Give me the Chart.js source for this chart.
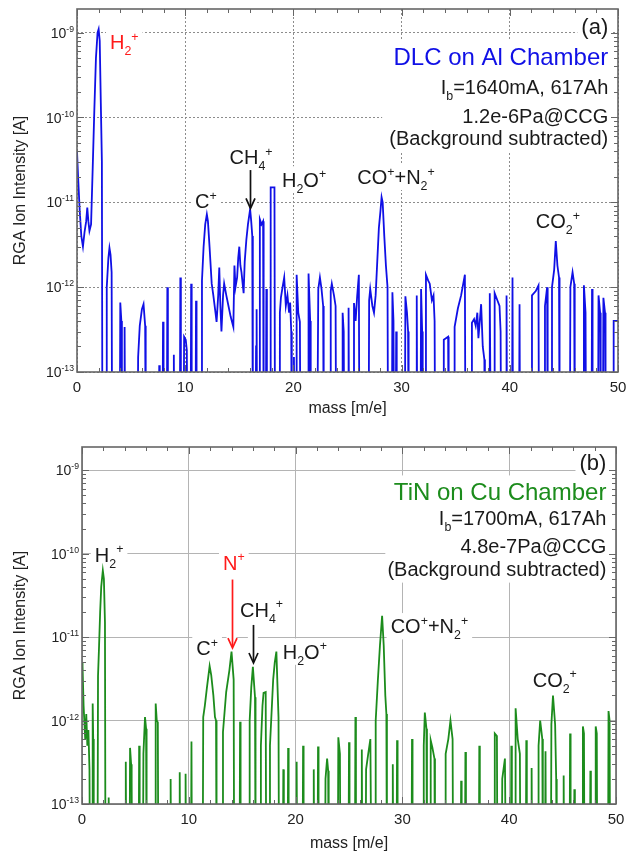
<!DOCTYPE html>
<html><head><meta charset="utf-8">
<script src="https://cdn.jsdelivr.net/npm/chart.js@4.4.1/dist/chart.umd.min.js"></script>
<style>
html,body{margin:0;padding:0;background:#fff;}
#ca{position:absolute;left:0;top:0;}
#cb{position:absolute;left:0;top:430px;}
</style></head><body>
<canvas id="ca"></canvas>
<canvas id="cb"></canvas>
<script>
const Z = 1e-14; // below the 1e-13 axis floor
const massTicks = [0, 10, 20, 30, 40, 50];
const decadeTicks = [1e-13, 1e-12, 1e-11, 1e-10, 1e-9];

// ---- (a) DLC on Al chamber ----
const massA = [
0,0.1,0.25,0.4,0.55,0.7,0.85,0.95,1.05,1.15,1.3,1.45,1.6,1.75,1.9,2.0,2.1,2.2,2.3,2.35,
2.7,2.75,2.9,3.0,3.1,3.2,3.25,
3.95,4.0,4.1,4.15,
4.35,4.4,4.45,
5.6,5.65,5.8,6.0,6.15,6.3,6.35,
7.55,7.6,7.65,
7.9,7.95,8.0,
8.3,8.35,8.4,
8.9,8.95,9.0,
9.5,9.55,9.6,
9.85,9.9,10.05,10.15,10.2,
10.5,10.55,10.6,
10.95,11.0,11.05,
11.5,11.55,11.7,11.85,12.0,12.1,12.25,12.45,12.6,12.8,12.9,13.05,13.15,13.25,13.35,13.5,13.6,13.8,14.0,14.2,14.45,14.55,14.65,14.8,14.9,15.0,15.1,15.2,15.4,15.5,15.65,15.8,16.0,16.1,16.2,16.25,
16.5,16.55,16.6,16.65,
16.85,16.9,17.05,17.2,17.25,
17.45,17.5,17.55,
17.85,17.9,18.25,18.3,
18.7,18.75,18.85,19.0,19.15,19.3,19.45,19.6,19.7,19.8,19.85,
20.0,20.05,20.1,
20.25,20.3,20.45,20.6,20.65,
21.35,21.4,21.55,21.6,
22.2,22.3,22.45,22.6,22.75,22.8,
23.4,23.45,23.55,23.75,23.9,23.95,
24.5,24.55,24.65,24.7,
25.05,25.1,25.15,
25.55,25.6,25.75,25.9,26.05,26.1,
26.95,27.0,27.1,27.3,27.45,27.6,27.75,27.9,28.05,28.15,28.25,28.4,28.55,28.7,28.75,
29.1,29.15,29.25,29.3,
29.45,29.5,29.55,
30.3,30.35,30.5,30.6,30.65,
31.35,31.4,31.45,
31.75,31.8,31.9,31.95,
32.2,32.25,32.45,32.6,32.8,32.95,33.05,33.1,
33.85,33.9,34.3,34.35,
34.85,34.9,35.2,35.5,35.85,35.9,
36.45,36.5,36.7,36.85,37.0,37.1,37.35,37.5,37.65,37.7,
38.1,38.15,38.25,
38.55,38.6,38.85,39.05,39.15,39.2,
39.65,39.7,39.75,
40.2,40.25,40.3,
40.85,40.9,40.95,
42.0,42.05,42.4,42.65,42.7,
43.2,43.25,43.45,43.5,
43.85,43.9,44.1,44.25,44.4,44.55,44.6,
45.55,45.6,45.8,45.95,46.0,
46.8,46.85,47.0,47.05,
47.55,47.6,47.65,
48.15,48.2,48.35,48.4,
48.6,48.65,48.8,48.85,
49.55,49.6,50
];
const ionA = [
4e-11,2e-11,8e-12,4e-12,3e-12,4.5e-12,6e-12,8.7e-12,6e-12,4.6e-12,5.5e-12,2.5e-11,1.2e-10,5e-10,1e-9,1.1e-9,8e-10,1.5e-10,3e-11,Z,
Z,1e-12,2.2e-12,2.9e-12,2.4e-12,1.5e-12,Z,
Z,6.6e-13,4e-13,Z,
Z,3.4e-13,Z,
Z,1.5e-13,3.5e-13,5.5e-13,6.3e-13,3.5e-13,Z,
Z,1.2e-13,Z,
Z,3.9e-13,Z,
Z,1e-12,Z,
Z,1.6e-13,Z,
Z,1.3e-12,Z,
Z,2.6e-13,2.4e-13,1.8e-13,Z,
Z,1.1e-12,Z,
Z,6.9e-13,Z,
Z,1.2e-12,3e-12,5.5e-12,7.2e-12,6e-12,3e-12,1.1e-12,8e-13,5e-13,3.9e-13,8e-13,1.7e-12,6e-13,3e-13,8e-13,1.1e-12,8e-13,6e-13,4.5e-13,3.4e-13,1.8e-12,1e-12,1.3e-12,2.2e-12,3e-12,1.8e-12,1.5e-12,8.5e-13,2e-12,3.6e-12,5.5e-12,8.3e-12,6e-12,4e-12,Z,
Z,2e-13,5.5e-13,Z,
Z,6.3e-12,5.5e-12,6e-12,Z,
Z,9.5e-13,Z,
Z,1.5e-11,1.5e-11,Z,
Z,5e-13,7.6e-13,1e-12,1.3e-12,6e-13,8e-13,5e-13,6.6e-13,3e-13,Z,
Z,1.5e-13,Z,
Z,1.4e-12,5e-13,3.9e-13,Z,
Z,1.45e-12,4e-13,Z,
Z,9.5e-13,1.3e-12,9.5e-13,6e-13,Z,
Z,9e-13,1.1e-12,8e-13,6e-13,Z,
Z,5e-13,3e-13,Z,
Z,5.7e-13,Z,
Z,6.5e-13,4e-13,8e-13,1.4e-12,Z,
Z,7e-13,9.5e-13,6e-13,5e-13,8e-13,2e-12,5e-12,8e-12,1.15e-11,1e-11,4e-12,1.8e-12,1e-12,Z,
Z,8.7e-13,4e-13,Z,
Z,3e-13,Z,
Z,7.8e-13,5e-13,3e-13,Z,
Z,8e-13,Z,
Z,9.5e-13,3e-13,Z,
Z,1.4e-12,1.2e-12,1.1e-12,7e-13,8e-13,4e-13,Z,
Z,2.4e-13,2.6e-13,Z,
Z,3.4e-13,5.6e-13,8e-13,1.4e-12,Z,
Z,3.8e-13,4.2e-13,3.5e-13,5e-13,2.5e-13,6.3e-13,2e-13,1.4e-13,Z,
Z,8.5e-13,Z,
Z,8.5e-13,7e-13,6e-13,3e-13,Z,
Z,8e-13,Z,
Z,1.3e-12,Z,
Z,6.3e-13,Z,
Z,8e-13,9e-13,1.05e-12,Z,
Z,6e-13,1e-12,Z,
Z,1e-12,1.6e-12,3.5e-12,1.8e-12,1.3e-12,Z,
Z,1e-12,1.5e-12,1.1e-12,Z,
Z,1.05e-12,5e-13,Z,
Z,9.5e-13,Z,
Z,8e-13,5e-13,Z,
Z,7.5e-13,5e-13,Z,
Z,4e-13,4e-13
];

// ---- (b) TiN on Cu chamber ----
const massB = [
0,0.05,0.15,0.2,0.3,0.4,0.5,0.6,0.7,0.75,
0.95,1.0,1.05,1.1,
1.45,1.5,1.6,1.7,1.8,1.95,2.05,2.15,2.2,
2.45,2.5,2.55,
4.05,4.1,4.15,
4.45,4.5,4.6,4.65,4.7,
5.3,5.35,5.4,
5.7,5.75,5.9,6.0,6.05,
6.85,6.9,7.0,7.1,7.15,
8.25,8.3,8.35,
9.1,9.15,9.2,
9.65,9.7,9.75,
10.2,10.25,10.3,
11.3,11.35,11.5,11.7,11.95,12.1,12.3,12.45,12.55,12.6,
13.15,13.2,13.5,13.8,14.0,14.2,14.25,
14.75,14.8,14.85,
15.65,15.7,15.85,16.0,16.2,16.25,
16.7,16.75,16.9,17.0,17.2,17.25,
17.55,17.6,17.9,18.05,18.2,18.4,18.45,
18.8,18.85,18.9,
19.25,19.3,19.35,
20.05,20.1,20.15,
20.65,20.7,20.75,
21.65,21.7,21.75,
22.05,22.1,22.15,
22.75,22.8,22.95,23.05,23.1,
23.95,24.0,24.15,24.2,
24.95,25.0,25.05,
25.55,25.6,25.65,
26.15,26.2,26.25,
26.55,26.6,26.8,27.0,27.1,
27.45,27.5,27.7,27.9,28.1,28.25,28.4,28.5,28.55,
29.05,29.1,29.15,
29.45,29.5,29.55,
30.85,30.9,30.95,
31.95,32.0,32.1,32.25,32.3,
32.6,32.65,32.8,33.0,33.05,
34.0,34.05,34.3,34.5,34.7,34.75,
35.45,35.5,35.55,
35.85,35.9,35.95,
37.15,37.2,37.25,
38.6,38.65,38.85,38.9,
39.3,39.35,39.6,39.7,
40.15,40.2,40.25,
40.55,40.6,40.8,41.0,41.05,
41.55,41.6,41.65,
42.05,42.1,42.15,
42.7,42.75,42.9,43.1,43.15,
43.35,43.4,43.45,
43.9,43.95,44.1,44.3,44.4,44.45,
45.05,45.1,45.15,
45.65,45.7,45.75,
46.05,46.1,46.15,
46.85,46.9,47.0,47.05,
47.55,47.6,47.65,
48.05,48.1,48.2,48.25,
49.25,49.3,49.4,49.45
];
const ionB = [
5e-12,4.5e-12,1.5e-12,1.1e-12,6e-13,1.2e-12,5e-13,7.7e-13,2.6e-13,Z,
Z,1.6e-12,6e-13,Z,
Z,3.4e-12,8e-12,2e-11,4e-11,6.3e-11,5e-11,1.5e-11,Z,
Z,1.2e-13,Z,
Z,3.2e-13,Z,
Z,4.7e-13,3e-13,1.8e-13,Z,
Z,5e-13,Z,
Z,4e-13,1.1e-12,8e-13,Z,
Z,1.6e-12,1e-12,9.5e-13,Z,
Z,2e-13,Z,
Z,2.4e-13,Z,
Z,2.3e-13,Z,
Z,5.6e-13,Z,
Z,1.1e-12,1.5e-12,2.5e-12,4.5e-12,3.5e-12,2e-12,1.1e-12,1e-12,Z,
Z,7.3e-13,2.2e-12,4e-12,6.7e-12,3.1e-12,Z,
Z,9.7e-13,Z,
Z,1e-12,2.5e-12,4.4e-12,1.9e-12,Z,
Z,5e-13,1.5e-12,2.15e-12,2.2e-12,Z,
Z,5e-13,3.1e-12,5e-12,6.7e-12,1.1e-12,Z,
Z,2.6e-13,Z,
Z,4.7e-13,Z,
Z,3.2e-13,Z,
Z,5e-13,Z,
Z,2.6e-13,Z,
Z,4.9e-13,Z,
Z,2e-13,3.5e-13,2.5e-13,Z,
Z,6.3e-13,4e-13,Z,
Z,5.5e-13,Z,
Z,1.1e-12,Z,
Z,4.5e-13,Z,
Z,2.6e-13,4e-13,6e-13,Z,
Z,1e-12,3e-12,8e-12,1.8e-11,8e-12,2e-12,1.2e-12,Z,
Z,3e-13,Z,
Z,5.8e-13,Z,
Z,6e-13,Z,
Z,5e-13,1.25e-12,8e-13,Z,
Z,5.8e-13,4.8e-13,3.5e-13,Z,
Z,4e-13,6e-13,1e-12,6e-13,Z,
Z,1.9e-13,Z,
Z,4.2e-13,Z,
Z,5e-13,Z,
Z,7e-13,6.5e-13,Z,
Z,2e-13,3.5e-13,Z,
Z,5e-13,Z,
Z,1.4e-12,6e-13,4e-13,Z,
Z,5.8e-13,Z,
Z,2.7e-13,Z,
Z,5e-13,1e-12,6e-13,Z,
Z,4.3e-13,Z,
Z,9e-13,2e-12,9e-13,2e-13,Z,
Z,2.2e-13,Z,
Z,7e-13,Z,
Z,1.5e-13,Z,
Z,8.5e-13,7e-13,Z,
Z,2.5e-13,Z,
Z,8.5e-13,7e-13,Z,
Z,1.3e-12,1e-12,Z
];

// ---- annotations (data coordinates: mass, intensity) ----
const BLUE = '#1010e6', GREEN = '#1c8c1c', RED = '#ff1a1a', INK = '#1a1a1a';
const notesA = [
  {t:'H_2^+', x:3.05, y:7.8e-10, s:20, c:RED, a:'left'},
  {t:'CH_4^+', x:14.1, y:3.4e-11, s:20, c:INK, a:'left'},
  {t:'H_2O^+', x:18.95, y:1.86e-11, s:20, c:INK, a:'left'},
  {t:'C^+', x:10.9, y:1.04e-11, s:20, c:INK, a:'left'},
  {t:'CO^++N_2^+', x:25.9, y:2.0e-11, s:20, c:INK, a:'left'},
  {t:'CO_2^+', x:42.4, y:6.0e-12, s:20, c:INK, a:'left'},
  {t:'(a)', x:49.1, y:1.18e-9, s:22, c:INK, a:'right'},
  {t:'DLC on Al Chamber', x:49.1, y:5.2e-10, s:24, c:BLUE, a:'right'},
  {t:'I_b=1640mA, 617Ah', x:49.1, y:2.3e-10, s:20, c:INK, a:'right'},
  {t:'1.2e-6Pa@CCG', x:49.1, y:1.05e-10, s:20, c:INK, a:'right'},
  {t:'(Background subtracted)', x:49.1, y:5.8e-11, s:20, c:INK, a:'right'}
];
const notesB = [
  {t:'H_2^+', x:1.2, y:9.8e-11, s:20, c:INK, a:'left'},
  {t:'N^+', x:13.2, y:7.85e-11, s:20, c:RED, a:'left'},
  {t:'CH_4^+', x:14.8, y:2.14e-11, s:20, c:INK, a:'left'},
  {t:'C^+', x:10.7, y:7.4e-12, s:20, c:INK, a:'left'},
  {t:'H_2O^+', x:18.8, y:6.7e-12, s:20, c:INK, a:'left'},
  {t:'CO^++N_2^+', x:28.9, y:1.35e-11, s:20, c:INK, a:'left'},
  {t:'CO_2^+', x:42.2, y:3.1e-12, s:20, c:INK, a:'left'},
  {t:'(b)', x:49.1, y:1.25e-9, s:22, c:INK, a:'right'},
  {t:'TiN on Cu Chamber', x:49.1, y:5.6e-10, s:24, c:GREEN, a:'right'},
  {t:'I_b=1700mA, 617Ah', x:49.1, y:2.7e-10, s:20, c:INK, a:'right'},
  {t:'4.8e-7Pa@CCG', x:49.1, y:1.23e-10, s:20, c:INK, a:'right'},
  {t:'(Background subtracted)', x:49.1, y:6.6e-11, s:20, c:INK, a:'right'}
];
const blocksA = [{x1:28.2, x2:50, y1:8.3e-10, y2:3.9e-11}];
const blocksB = [{x1:28.4, x2:50, y1:7.8e-10, y2:4.5e-11}];
const arrowsA = [{x:16.0, y1:2.4e-11, y2:8.5e-12, c:'#111'}];
const arrowsB = [{x:14.0, y1:4.9e-11, y2:7.4e-12, c:RED}, {x:16.0, y1:1.4e-11, y2:4.9e-12, c:'#111'}];

const FONT = '"Liberation Sans", Arial, Helvetica, sans-serif';

function parseRich(str){
  const segs = []; let i = 0;
  while (i < str.length){
    const c = str[i];
    if (c === '_' || c === '^'){
      const m = c === '_' ? 'sub' : 'sup'; i++;
      let t;
      if (str[i] === '{'){ const j = str.indexOf('}', i); t = str.slice(i+1, j); i = j+1; }
      else { t = str[i]; i++; }
      segs.push({t, m});
    } else {
      let j = i; while (j < str.length && str[j] !== '_' && str[j] !== '^') j++;
      segs.push({t: str.slice(i, j), m: 'n'}); i = j;
    }
  }
  return segs;
}
function layoutRich(ctx, str, x, size, align){
  const segs = parseRich(str); const small = size * 0.62; let w = 0;
  segs.forEach(s => { s.size = s.m === 'n' ? size : small; ctx.font = s.size + 'px ' + FONT; s.w = ctx.measureText(s.t).width; w += s.w; });
  const x0 = align === 'right' ? x - w : (align === 'center' ? x - w/2 : x);
  return {segs, w, x0};
}
function drawRich(ctx, str, x, cy, size, color, align){
  const L = layoutRich(ctx, str, x, size, align);
  let xx = L.x0; const base = cy + 0.36 * size;
  ctx.fillStyle = color; ctx.textAlign = 'left'; ctx.textBaseline = 'alphabetic';
  L.segs.forEach(s => {
    ctx.font = s.size + 'px ' + FONT;
    const dy = s.m === 'sub' ? 0.3 * size : (s.m === 'sup' ? -0.42 * size : 0);
    ctx.fillText(s.t, xx, base + dy); xx += s.w;
  });
}

const decoPlugin = {
  id: 'deco',
  beforeDatasetsDraw(chart, args, opts){
    const {ctx, chartArea: ca, scales: {x, y}} = chart;
    ctx.save();
    ctx.beginPath(); ctx.rect(ca.left, ca.top, ca.right - ca.left, ca.bottom - ca.top); ctx.clip();
    ctx.fillStyle = '#fff';
    opts.blocks.forEach(b => {
      const X1 = x.getPixelForValue(b.x1), X2 = x.getPixelForValue(b.x2);
      const Y1 = y.getPixelForValue(b.y1), Y2 = y.getPixelForValue(b.y2);
      ctx.fillRect(X1, Y1, X2 - X1, Y2 - Y1);
    });
    opts.notes.forEach(n => {
      const L = layoutRich(ctx, n.t, x.getPixelForValue(n.x), n.s, n.a);
      const cy = y.getPixelForValue(n.y);
      ctx.fillStyle = '#fff';
      ctx.fillRect(L.x0 - 4, cy - 0.66 * n.s, L.w + 8, 1.32 * n.s);
    });
    opts.arrows.forEach(a => {
      const px = x.getPixelForValue(a.x);
      const Y1 = y.getPixelForValue(a.y1), Y2 = y.getPixelForValue(a.y2);
      ctx.fillStyle = '#fff'; ctx.fillRect(px - 5, Y1, 10, Y2 - Y1);
    });
    ctx.restore();
  },
  afterDatasetsDraw(chart, args, opts){
    const {ctx, chartArea: ca, scales: {x, y}} = chart;
    ctx.save();
    // frame
    ctx.strokeStyle = '#666'; ctx.lineWidth = 1.6;
    ctx.strokeRect(ca.left, ca.top, ca.right - ca.left, ca.bottom - ca.top);
    // minor / major ticks (inward)
    ctx.lineWidth = 1; ctx.strokeStyle = '#666';
    ctx.beginPath();
    decadeTicks.forEach(d => {
      for (let k = 1; k <= 9; k++){
        const v = k * d; if (v > y.max) break;
        const py = Math.round(y.getPixelForValue(v)) + 0.5; const len = k === 1 ? 7 : 4;
        ctx.moveTo(ca.left, py); ctx.lineTo(ca.left + len, py);
        ctx.moveTo(ca.right, py); ctx.lineTo(ca.right - len, py);
      }
    });
    for (let m = massTicks[0]; m <= massTicks[massTicks.length - 1]; m += 2){
      const px = Math.round(x.getPixelForValue(m)) + 0.5; const len = m % 10 === 0 ? 7 : 4;
      ctx.moveTo(px, ca.bottom); ctx.lineTo(px, ca.bottom - len);
      ctx.moveTo(px, ca.top); ctx.lineTo(px, ca.top + len);
    }
    ctx.stroke();
    // y tick labels 10^n
    decadeTicks.forEach(v => {
      const e = Math.round(Math.log10(v));
      drawRich(ctx, '10^{' + e + '}', ca.left - 3, y.getPixelForValue(v), 14, '#222', 'right');
    });
    // arrows
    opts.arrows.forEach(a => {
      const px = Math.round(x.getPixelForValue(a.x)) + 0.5;
      const Y1 = y.getPixelForValue(a.y1), Y2 = y.getPixelForValue(a.y2);
      ctx.strokeStyle = a.c; ctx.lineWidth = 1.7;
      ctx.beginPath(); ctx.moveTo(px, Y1); ctx.lineTo(px, Y2 - 1); ctx.stroke();
      ctx.beginPath(); ctx.moveTo(px - 4.5, Y2 - 10); ctx.lineTo(px, Y2); ctx.lineTo(px + 4.5, Y2 - 10); ctx.stroke();
    });
    // notes
    opts.notes.forEach(n => drawRich(ctx, n.t, x.getPixelForValue(n.x), y.getPixelForValue(n.y), n.s, n.c, n.a));
    ctx.restore();
  }
};

function makeChart(id, W, H, mass, ion, cfg){
  const cv = document.getElementById(id);
  cv.width = W; cv.height = H; cv.style.width = W + 'px'; cv.style.height = H + 'px';
  const n = Math.min(mass.length, ion.length);
  const pts = []; for (let i = 0; i < n; i++) pts.push({x: mass[i], y: ion[i]});
  return new Chart(cv, {
    type: 'line',
    data: {datasets: [{data: pts, borderColor: cfg.color, borderWidth: 1.8, pointRadius: 0, tension: 0, fill: false}]},
    options: {
      responsive: false, animation: false, devicePixelRatio: 1,
      layout: {padding: cfg.pad},
      plugins: {legend: {display: false}, tooltip: {enabled: false},
        deco: {notes: cfg.notes, blocks: cfg.blocks, arrows: cfg.arrows}},
      scales: {
        x: {type: 'linear', min: massTicks[0], max: massTicks[massTicks.length - 1],
          afterBuildTicks: s => { s.ticks = massTicks.map(v => ({value: v})); },
          afterFit: s => { s.height = cfg.xH; },
          grid: {color: cfg.grid, lineWidth: 1, drawTicks: false},
          border: {display: false, dash: cfg.dash},
          ticks: {padding: 7, font: {family: FONT, size: 15}, color: '#222', maxRotation: 0, autoSkip: false},
          title: {display: true, text: 'mass [m/e]', font: {family: FONT, size: 16}, color: '#222', padding: {top: 0, bottom: cfg.xTitlePad}}
        },
        y: {type: 'logarithmic', min: decadeTicks[0], max: 1.9e-9,
          afterBuildTicks: s => { s.ticks = decadeTicks.map(v => ({value: v})); },
          afterFit: s => { s.width = cfg.yW; },
          grid: {color: cfg.grid, lineWidth: 1, drawTicks: false},
          border: {display: false, dash: cfg.dash},
          ticks: {display: false},
          title: {display: true, text: 'RGA Ion Intensity [A]', font: {family: FONT, size: 16}, color: '#222', padding: {top: 11, bottom: 0}}
        }
      }
    },
    plugins: [decoPlugin]
  });
}

makeChart('ca', 636, 430, massA, ionA, {
  color: BLUE, pad: {left: 0, right: 18, top: 9, bottom: 0}, yW: 77, xH: 58, xTitlePad: 12,
  grid: '#8c8c8c', dash: [2, 2], notes: notesA, blocks: blocksA, arrows: arrowsA
});
makeChart('cb', 636, 425, massB, ionB, {
  color: GREEN, pad: {left: 0, right: 20, top: 17, bottom: 0}, yW: 82, xH: 51, xTitlePad: 2,
  grid: '#b4b4b4', dash: [], notes: notesB, blocks: blocksB, arrows: arrowsB
});
</script>
</body></html>
